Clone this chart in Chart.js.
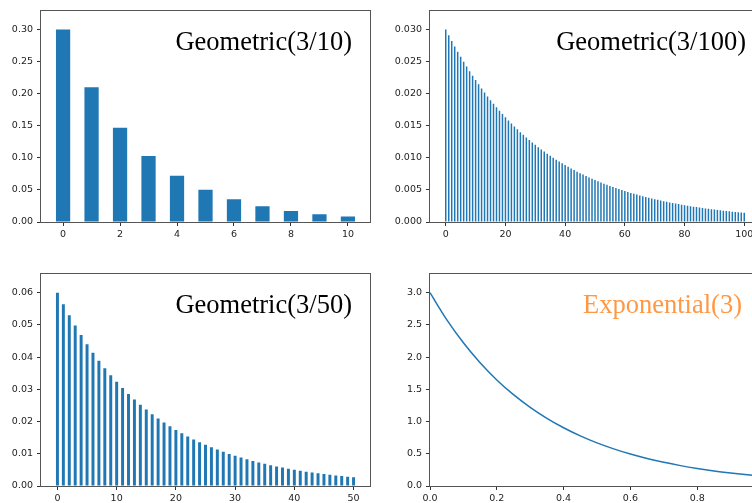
<!DOCTYPE html>
<html>
<head>
<meta charset="utf-8">
<script src="https://cdn.jsdelivr.net/npm/chart.js@4"></script>
<style>
  html, body { margin: 0; padding: 0; background: #fff; overflow: hidden; }
  #wrap { position: relative; width: 752px; height: 503px; overflow: hidden; background: #fff; }
  canvas { position: absolute; }
</style>
</head>
<body>
<div id="wrap">
  <canvas id="geo10" style="left:0px;top:0px" width="376" height="250"></canvas>
  <canvas id="geo100" style="left:376px;top:0px" width="400" height="250"></canvas>
  <canvas id="geo50" style="left:0px;top:250px" width="376" height="253"></canvas>
  <canvas id="expo" style="left:376px;top:250px" width="400" height="253"></canvas>
</div>
<script>
// pmf values, k = 0, 1, 2, ...
const geo10P = [0.3, 0.21, 0.147, 0.1029, 0.07203, 0.05042, 0.03529, 0.02471, 0.01729, 0.01211, 0.00847];

const geo100P = [
  0.030000, 0.029100, 0.028227, 0.027380, 0.026559, 0.025762, 0.024989, 0.024239, 0.023512, 0.022807,
  0.022123, 0.021459, 0.020815, 0.020191, 0.019585, 0.018998, 0.018428, 0.017875, 0.017339, 0.016819,
  0.016314, 0.015825, 0.015350, 0.014890, 0.014443, 0.014010, 0.013590, 0.013182, 0.012787, 0.012403,
  0.012030, 0.011670, 0.011319, 0.010980, 0.010650, 0.010331, 0.010021, 0.009720, 0.009428, 0.009146,
  0.008871, 0.008605, 0.008347, 0.008097, 0.007854, 0.007618, 0.007390, 0.007168, 0.006953, 0.006744,
  0.006542, 0.006346, 0.006155, 0.005971, 0.005791, 0.005618, 0.005449, 0.005286, 0.005127, 0.004973,
  0.004824, 0.004679, 0.004539, 0.004403, 0.004271, 0.004143, 0.004018, 0.003898, 0.003781, 0.003667,
  0.003557, 0.003451, 0.003347, 0.003247, 0.003150, 0.003055, 0.002963, 0.002874, 0.002788, 0.002705,
  0.002623, 0.002545, 0.002468, 0.002394, 0.002323, 0.002253, 0.002185, 0.002120, 0.002056, 0.001994,
  0.001935, 0.001877, 0.001820, 0.001766, 0.001713, 0.001661, 0.001611, 0.001563, 0.001516, 0.001471,
  0.001427
];

const geo50P = [
  0.06000, 0.05640, 0.05302, 0.04984, 0.04685, 0.04403, 0.04139, 0.03891, 0.03657, 0.03438,
  0.03232, 0.03038, 0.02856, 0.02684, 0.02523, 0.02372, 0.02229, 0.02096, 0.01970, 0.01852,
  0.01741, 0.01636, 0.01538, 0.01446, 0.01359, 0.01278, 0.01201, 0.01129, 0.01061, 0.00997,
  0.00938, 0.00881, 0.00829, 0.00779, 0.00732, 0.00688, 0.00647, 0.00608, 0.00572, 0.00537,
  0.00505, 0.00475, 0.00446, 0.00420, 0.00394, 0.00371, 0.00348, 0.00328, 0.00308, 0.00289,
  0.00272
];

// density samples
const expX = [0, 0.05, 0.1, 0.15, 0.2, 0.25, 0.3, 0.35, 0.4, 0.45, 0.5,
              0.55, 0.6, 0.65, 0.7, 0.75, 0.8, 0.85, 0.9, 0.95, 1.0];
const expY = [3.000, 2.582, 2.222, 1.913, 1.646, 1.417, 1.220, 1.050, 0.904, 0.778, 0.669,
              0.576, 0.496, 0.427, 0.367, 0.316, 0.272, 0.234, 0.202, 0.174, 0.149];

const blue = '#1f77b4';

Chart.defaults.font.family = "'DejaVu Sans', sans-serif";
Chart.defaults.font.size = 9.5;
Chart.defaults.color = '#222';

// box around the plot area plus the label inside it
const frame = {
  id: 'frame',
  afterDraw(chart, args, o) {
    const { ctx, chartArea: a } = chart;
    ctx.save();
    ctx.strokeStyle = '#555';
    ctx.lineWidth = 1;
    ctx.strokeRect(Math.round(a.left) - 0.5, Math.round(a.top) + 0.5,
                   Math.round(a.right - a.left) + 1, Math.round(a.bottom - a.top));
    ctx.font = '26.5px "Liberation Serif", serif';
    ctx.fillStyle = o.color;
    ctx.textAlign = 'right';
    ctx.textBaseline = 'alphabetic';
    ctx.fillText(o.text, a.right - o.inset, a.top + 40);
    ctx.restore();
  }
};

function scales(x, y) {
  const tickGrid = { drawOnChartArea: false, drawTicks: true, tickLength: 4, tickColor: '#333', offset: false };
  return {
    x: {
      type: 'linear', min: x.min, max: x.max, offset: false,
      grid: tickGrid, border: { display: false },
      ticks: { stepSize: x.step, includeBounds: false, autoSkip: false, maxRotation: 0, padding: 3,
               callback: v => v.toFixed(x.dec) },
      afterFit: s => { s.height = x.height; }
    },
    y: {
      min: 0, max: y.max,
      grid: tickGrid, border: { display: false },
      ticks: { stepSize: y.step, includeBounds: false, padding: 4,
               callback: v => v.toFixed(y.dec) },
      afterFit: s => { s.width = y.width; }
    }
  };
}

function barChart(id, probs, x, y, pad, label) {
  new Chart(document.getElementById(id), {
    type: 'bar',
    data: {
      datasets: [{
        data: probs.map((p, k) => ({ x: k, y: p })),
        backgroundColor: blue,
        borderWidth: 0,
        barPercentage: 0.5,
        categoryPercentage: 1
      }]
    },
    options: {
      responsive: false,
      animation: false,
      layout: { padding: pad },
      scales: scales(x, y),
      plugins: { legend: { display: false }, tooltip: { enabled: false }, frame: label }
    },
    plugins: [frame]
  });
}

barChart('geo10', geo10P,
  { min: -0.775, max: 10.775, step: 2, dec: 0, height: 28 },
  { max: 0.331, step: 0.05, dec: 2, width: 41 },
  { top: 9, right: 6, left: 0, bottom: 0 },
  { text: 'Geometric(3/10)', color: '#000', inset: 18 });

barChart('geo100', geo100P,
  { min: -5.275, max: 105.275, step: 20, dec: 0, height: 28 },
  { max: 0.0331, step: 0.005, dec: 3, width: 54 },
  { top: 9, right: 16, left: 0, bottom: 0 },
  { text: 'Geometric(3/100)', color: '#000', inset: 14 });

barChart('geo50', geo50P,
  { min: -2.775, max: 52.775, step: 10, dec: 0, height: 17 },
  { max: 0.0662, step: 0.01, dec: 2, width: 41 },
  { top: 22.7, right: 6, left: 0, bottom: 0 },
  { text: 'Geometric(3/50)', color: '#000', inset: 18 });

new Chart(document.getElementById('expo'), {
  type: 'line',
  data: {
    datasets: [{
      data: expX.map((v, i) => ({ x: v, y: expY[i] })),
      borderColor: blue,
      borderWidth: 1.5,
      pointRadius: 0,
      fill: false,
      cubicInterpolationMode: 'monotone'
    }]
  },
  options: {
    responsive: false,
    animation: false,
    layout: { padding: { top: 22.7, right: 12, left: 0, bottom: 0 } },
    scales: scales({ min: 0, max: 1, step: 0.2, dec: 1, height: 17 },
                   { max: 3.31, step: 0.5, dec: 1, width: 54 }),
    plugins: {
      legend: { display: false }, tooltip: { enabled: false },
      frame: { text: 'Exponential(3)', color: '#ff9845', inset: 22 }
    }
  },
  plugins: [frame]
});
</script>
</body>
</html>
